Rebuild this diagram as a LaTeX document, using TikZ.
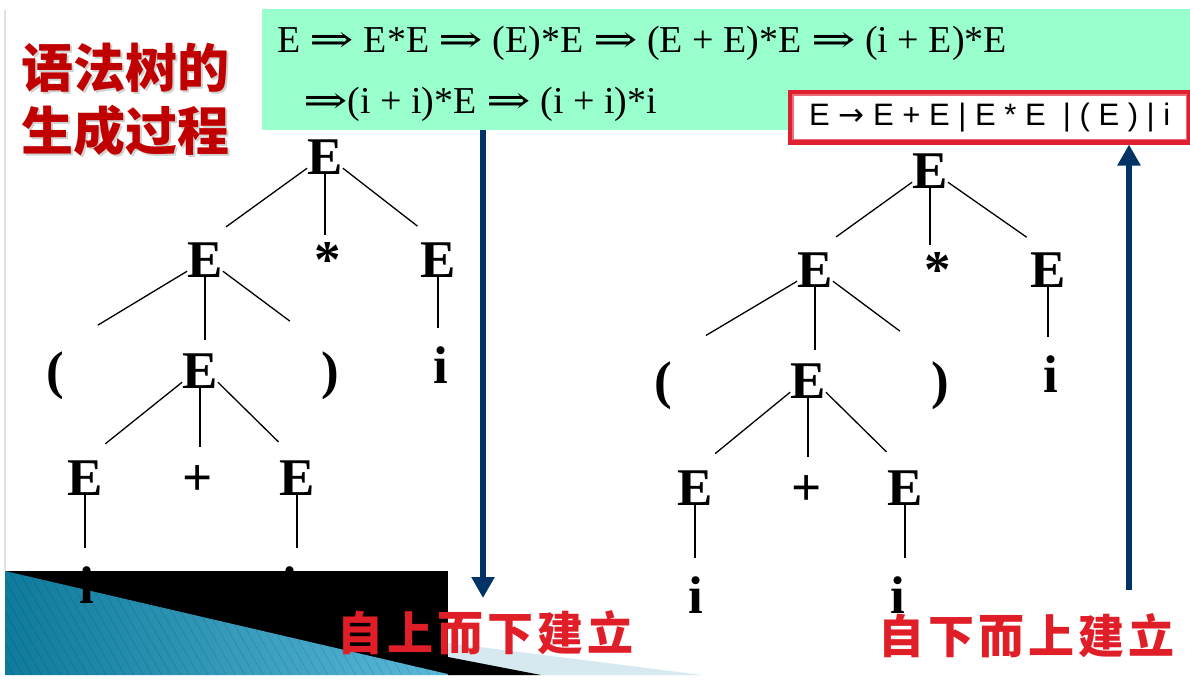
\documentclass[tikz,border=0pt]{standalone}
\usepackage{fontspec}
\setmainfont{Liberation Serif}
\setsansfont{Liberation Sans}
\newfontfamily\cjkfont{Noto Sans CJK SC}
\newfontfamily\cjkspaced[LetterSpace=9]{Noto Sans CJK SC}
\newfontfamily\arrowfont{DejaVu Serif}
\newfontfamily\arrowsans{DejaVu Sans}
\newcommand{\derivto}{\scalebox{1.4}[1]{\arrowfont ⇒}}
\usetikzlibrary{
  arrows.meta,
  patterns.meta
}

\definecolor{mint}{RGB}{153,255,204}
\definecolor{navy}{RGB}{0,51,102}
\definecolor{titlered}{RGB}{192,0,0}
\definecolor{labelred}{RGB}{224,30,40}
\definecolor{boxred}{RGB}{222,32,48}
\definecolor{slideteal}{RGB}{14,122,156}
\definecolor{slidesky}{RGB}{92,186,218}
\definecolor{slidepale}{RGB}{214,232,240}

\tikzset{
  sym/.style={font=\fontsize{53}{53}\selectfont\bfseries, inner sep=0pt, anchor=base},
  branch/.style={line width=1.3pt, shorten >=26pt},
  stem/.style={line width=1.3pt, shorten >=18pt},
  derivtext/.style={font=\fontsize{38}{38}\selectfont, inner sep=0pt, anchor=base west},
  titletext/.style={font=\cjkfont\bfseries\fontsize{52}{63}\selectfont, align=left, inner sep=0pt, anchor=north west},
  labeltext/.style={font=\cjkspaced\bfseries\fontsize{46}{46}\selectfont, text=labelred, inner sep=0pt, anchor=base west},
  bigarrow/.style={navy, line width=6pt, -{Triangle[width=22pt,length=21pt]}}
}

\begin{document}
\begin{tikzpicture}[x=1pt, y=-1pt]
    \useasboundingbox (0,0) rectangle (1190,683);
    \fill[white] (0,0) rectangle (1190,683);

    % slide decoration
    \draw[black!12, line width=1.5pt] (5,10) -- (5,571);
    \fill[black] (5,571) rectangle (448,675);
    \shade[left color=slideteal, right color=slidesky] (5,571) -- (452,675) -- (5,675) -- cycle;
    \fill[pattern={Lines[angle=-60,distance=8pt,line width=0.5pt]}, pattern color=black, opacity=0.15] (5,571) -- (452,675) -- (5,675) -- cycle;
    \fill[slidepale] (448,643) -- (702,675) -- (448,675) -- cycle;
    \fill[black] (448,657) -- (541,675) -- (448,675) -- cycle;

    % derivation and grammar
    \node[fill=mint, minimum width=928pt, minimum height=121pt, anchor=north west, inner sep=0pt] (deriv) at (262,9) {};
    \node[derivtext] (deriv1) at (277,52) {E \derivto{} E*E \derivto{} (E)*E \derivto{} (E + E)*E \derivto{} (i + E)*E};
    \node[derivtext] (deriv2) at (303,113) {\derivto(i + i)*E \derivto{} (i + i)*i};

    \node[draw=boxred, line width=4.5pt, fill=white, minimum width=399pt, minimum height=50pt, anchor=north west, inner sep=0pt,
          font=\sffamily\fontsize{31}{31}\selectfont] (rule) at (788,90) {E {\arrowsans →} E + E | E * E\ \ | ( E ) | i};
    \draw[boxred!65, line width=1.3pt] ([xshift=5pt,yshift=-5pt]rule.north west) rectangle ([xshift=-5pt,yshift=5pt]rule.south east);

    \node[titletext, text=black!18] (titleshadow) at (23,45) {语法树的\\生成过程};
    \node[titletext, text=titlered] (title) at (21,43) {语法树的\\生成过程};

    % left tree
    \node[sym] (lroot) at (325,174) {E};
    \node[sym] (lE1) at (205,277) {E};
    \node[sym] (lstar) at (328,277) {*};
    \node[sym] (lE2) at (438,277) {E};
    \node[sym] (llp) at (55,388) {(};
    \node[sym] (lE3) at (200,388) {E};
    \node[sym] (lrp) at (330,388) {)};
    \node[sym] (li1) at (441,383) {i};
    \node[sym] (lE4) at (85,495) {E};
    \node[sym] (lplus) at (198,495) {+};
    \node[sym] (lE5) at (297,495) {E};
    \node[sym] (li2) at (87,603) {i};
    \node[sym] (li3) at (290,603) {i};

    \draw[branch] ([yshift=6pt]lroot.south west) -- (lE1.north);
    \draw[stem, shorten >=7pt] (lroot.south) -- (lroot.south |- lstar.north);
    \draw[branch] ([yshift=6pt]lroot.south east) -- (lE2.north);
    \draw[branch, shorten >=50pt] ([yshift=6pt]lE1.south west) -- (llp.north);
    \draw[stem, shorten >=13pt] (lE1.south) -- (lE1.south |- lE3.north);
    \draw[branch, shorten >=50pt] ([yshift=6pt]lE1.south east) -- (lrp.north);
    \draw[stem] (lE2.south) -- (lE2.south |- li1.north);
    \draw[branch] ([yshift=6pt]lE3.south west) -- (lE4.north);
    \draw[stem] (lE3.south) -- (lE3.south |- lplus.north);
    \draw[branch] ([yshift=6pt]lE3.south east) -- (lE5.north);
    \draw[stem] (lE4.south) -- (lE4.south |- li2.north);
    \draw[stem] (lE5.south) -- (lE5.south |- li3.north);

    % right tree
    \node[sym] (rroot) at (930,188) {E};
    \node[sym] (rE1) at (815,287) {E};
    \node[sym] (rstar) at (938,287) {*};
    \node[sym] (rE2) at (1048,287) {E};
    \node[sym] (rlp) at (663,398) {(};
    \node[sym] (rE3) at (808,398) {E};
    \node[sym] (rrp) at (940,398) {)};
    \node[sym] (ri1) at (1051,392) {i};
    \node[sym] (rE4) at (695,505) {E};
    \node[sym] (rplus) at (807,505) {+};
    \node[sym] (rE5) at (905,505) {E};
    \node[sym] (ri2) at (696,613) {i};
    \node[sym] (ri3) at (898,613) {i};

    \draw[branch] ([yshift=6pt]rroot.south west) -- (rE1.north);
    \draw[stem, shorten >=7pt] (rroot.south) -- (rroot.south |- rstar.north);
    \draw[branch] ([yshift=6pt]rroot.south east) -- (rE2.north);
    \draw[branch, shorten >=50pt] ([yshift=6pt]rE1.south west) -- (rlp.north);
    \draw[stem, shorten >=13pt] (rE1.south) -- (rE1.south |- rE3.north);
    \draw[branch, shorten >=50pt] ([yshift=6pt]rE1.south east) -- (rrp.north);
    \draw[stem] (rE2.south) -- (rE2.south |- ri1.north);
    \draw[branch] ([yshift=6pt]rE3.south west) -- (rE4.north);
    \draw[stem] (rE3.south) -- (rE3.south |- rplus.north);
    \draw[branch] ([yshift=6pt]rE3.south east) -- (rE5.north);
    \draw[stem] (rE4.south) -- (rE4.south |- ri2.north);
    \draw[stem] (rE5.south) -- (rE5.south |- ri3.north);

    % directions
    \coordinate (downtip) at (483,598);
    \coordinate (upfoot) at (1129,590);
    \draw[bigarrow] (deriv.south -| downtip) -- (downtip);
    \draw[bigarrow] (upfoot) -- (upfoot |- rule.south);

    \node[labeltext] (topdown) at (337,650) {自上而下建立};
    \node[labeltext] (bottomup) at (878,653) {自下而上建立};
\end{tikzpicture}
\end{document}
